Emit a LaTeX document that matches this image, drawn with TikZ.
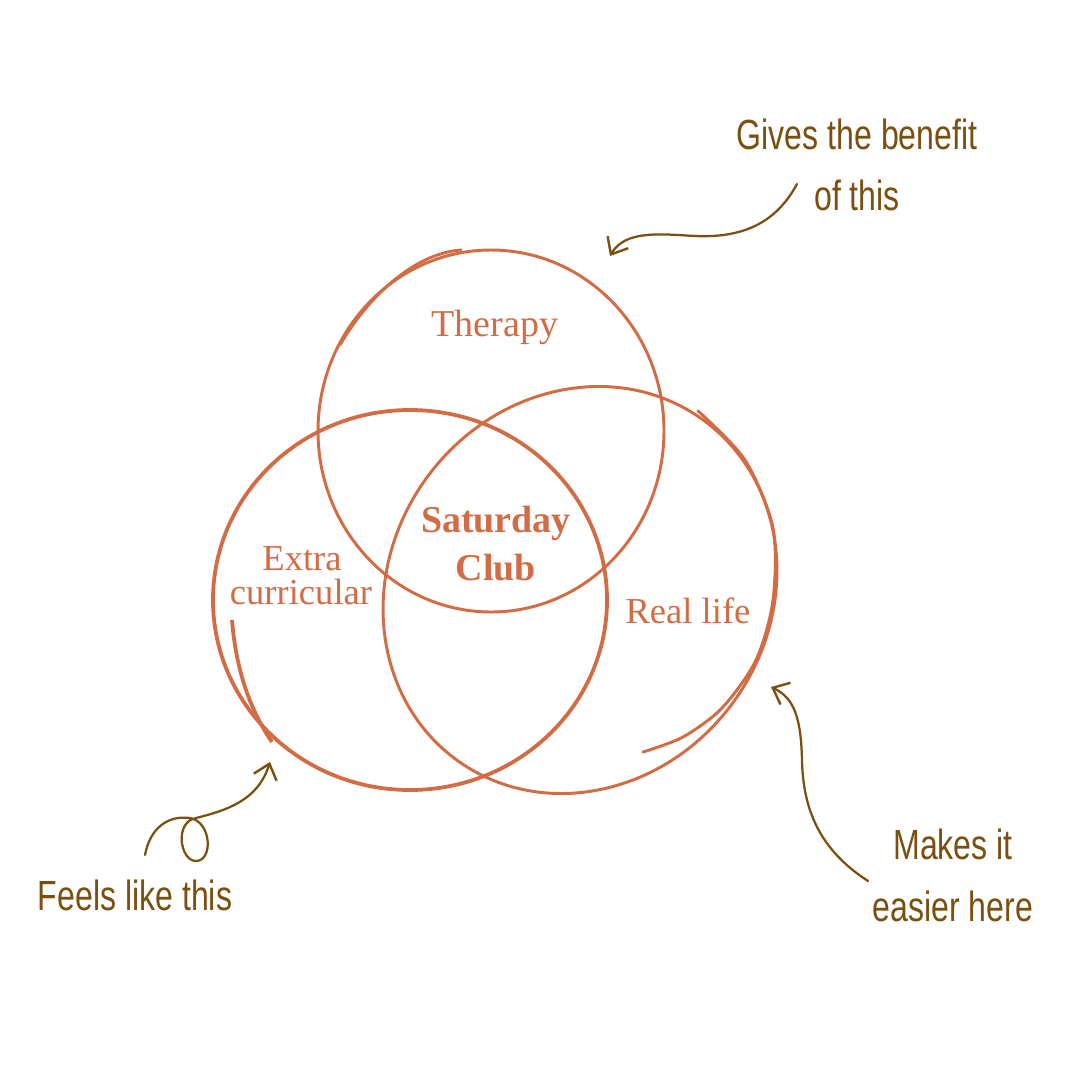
\documentclass[tikz,border=0pt]{standalone}
\usepackage{fontspec}
\setmainfont{Liberation Serif}
\newfontfamily\hand[FakeStretch=0.76]{Liberation Sans}
\usetikzlibrary{arrows.meta}
\definecolor{venn}{HTML}{D26C45}
\definecolor{ink}{HTML}{7A5010}
\tikzset{
  ring/.style={draw=venn, line width=2.1pt},
  thickring/.style={draw=venn, line width=2.7pt},
  vlabel/.style={text=venn, font=\fontsize{26}{22}\selectfont, anchor=base, inner sep=0pt},
  vbold/.style={text=venn, font=\fontsize{27}{23}\selectfont\bfseries, anchor=base, inner sep=0pt},
  note/.style={text=ink, font=\hand\fontsize{30}{30}\selectfont, anchor=base, inner sep=0pt},
  pointer/.style={draw=ink, line width=1.6pt, line cap=round, -{Straight Barb[length=10pt,width=17pt,line width=1.7pt]}}
}
\begin{document}
\begin{tikzpicture}[x=0.025cm,y=-0.025cm]
\useasboundingbox[fill=white] (0,0) rectangle (1079,1079);
% Therapy circle
\draw[ring] (491,431) ellipse [x radius=173, y radius=181];
\draw[ring] (462,250) .. controls (420,252) and (372,290) .. (340,345);
% Extra curricular circle
\draw[thickring] (410,600) ellipse [x radius=197, y radius=190];
\draw[thickring] (232,620) .. controls (236,670) and (250,710) .. (272,742);
% Real life circle
\draw[ring, rotate around={54.6:(580,590)}] (580,590) ellipse [x radius=210, y radius=190];
\draw[ring, line cap=round] plot[smooth] coordinates {
  (698,411) (745,460) (773,528) (773,600) (756,660) (722,708) (683,737) (643,752)};
% labels
\node[vlabel] (therapy) at (495,336) {\fontsize{27}{23}\selectfont Therapy};
\node[vbold] (sat) at (496,532) {Saturday};
\node[vbold] (club) at (496,580) {Club};
\node[vlabel] (extra) at (302,570) {Extra};
\node[vlabel] (curr) at (301,604) {curricular};
\node[vlabel] (real) at (688,623) {Real life};
% notes
\node[note] (n1a) at (857,149) {Gives the benefit};
\node[note] (n1b) at (857,210) {of this};
\node[note] (n2) at (135,910) {Feels like this};
\node[note] (n3a) at (953,859) {Makes it};
\node[note] (n3b) at (953,921) {easier here};
% arrow ends
\coordinate (a1s) at (797,184);
\coordinate (a1e) at (610,256);
\coordinate (a2s) at (145,855);
\coordinate (a2e) at (270,762);
\coordinate (a3s) at (868,881);
\coordinate (a3e) at (771,687);
\draw[pointer] (a1s) .. controls (775,225) and (740,238) .. (695,236) .. controls (660,234) and (625,230) .. (a1e);
\draw[pointer] (a2s) .. controls (150,828) and (168,815) .. (190,818) .. controls (212,822) and (213,861) .. (196,861) .. controls (180,861) and (174,822) .. (196,818) .. controls (228,810) and (258,800) .. (a2e);
\draw[pointer] (a3s) .. controls (820,850) and (803,810) .. (802,760) .. controls (801,720) and (795,698) .. (a3e);
\end{tikzpicture}
\end{document}
